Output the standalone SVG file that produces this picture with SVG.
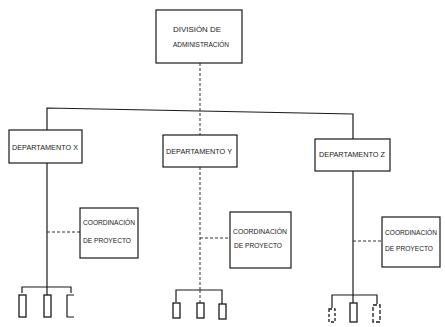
<svg xmlns="http://www.w3.org/2000/svg" width="445" height="327" viewBox="0 0 445 327">
<style>
.box{fill:#fff;stroke:#1a1a1a;stroke-width:1.2}
.sm{fill:#fff;stroke:#1a1a1a;stroke-width:1.3}
.ln{fill:none;stroke:#1a1a1a;stroke-width:1.2}
.dl{fill:none;stroke:#333;stroke-width:1;stroke-dasharray:3 2}
.t{font-family:"Liberation Sans",Arial,sans-serif;font-size:7px;fill:#1a1a1a;text-anchor:middle}
</style>
<rect width="445" height="327" fill="#fff"/>
<g id="connectors">
<line class="dl" x1="200" y1="63" x2="200" y2="135"/>
<polyline class="ln" points="47,130 47,108 200,111 353,114 353,139"/>
<line class="ln" x1="47" y1="163" x2="47" y2="287"/>
<line class="dl" x1="200" y1="167" x2="200" y2="290"/>
<line class="ln" x1="353" y1="171" x2="353" y2="295"/>
<line class="dl" x1="47" y1="232" x2="80" y2="232"/>
<line class="dl" x1="200" y1="238" x2="230" y2="238"/>
<line class="dl" x1="353" y1="241" x2="382" y2="241"/>
<polyline class="ln" points="22,293 22,287 71,287 71,293"/>
<line class="ln" x1="47" y1="287" x2="47" y2="295"/>
<polyline class="ln" points="176,302 176,290 222,290 222,304"/>
<line class="dl" x1="200" y1="290" x2="200" y2="303"/>
<polyline class="ln" points="332,308 332,295 377,295 377,304"/>
<line class="ln" x1="353" y1="295" x2="353" y2="303"/>
</g>
<g id="division">
<rect class="box" x="156" y="10" width="86" height="53"/>
<text class="t" x="197" y="32" textLength="48" lengthAdjust="spacingAndGlyphs">DIVISIÓN DE</text>
<text class="t" x="201" y="47" textLength="56" lengthAdjust="spacingAndGlyphs">ADMINISTRACIÓN</text>
</g>
<g id="dept1">
<rect class="box" x="9" y="130" width="73" height="33"/>
<text class="t" x="45" y="150" textLength="66" lengthAdjust="spacingAndGlyphs">DEPARTAMENTO X</text>
</g>
<g id="dept2">
<rect class="box" x="163" y="135" width="74" height="32"/>
<text class="t" x="199" y="154" textLength="66" lengthAdjust="spacingAndGlyphs">DEPARTAMENTO Y</text>
</g>
<g id="dept3">
<rect class="box" x="315" y="139" width="75" height="32"/>
<text class="t" x="352" y="157" textLength="66" lengthAdjust="spacingAndGlyphs">DEPARTAMENTO Z</text>
</g>
<g id="coord1">
<rect class="box" x="80" y="208" width="58" height="50"/>
<text class="t" x="109" y="225" textLength="52" lengthAdjust="spacingAndGlyphs">COORDINACIÓN</text>
<text class="t" x="107" y="243" textLength="48" lengthAdjust="spacingAndGlyphs">DE PROYECTO</text>
</g>
<g id="coord2">
<rect class="box" x="230" y="212" width="61" height="56"/>
<text class="t" x="260" y="234" textLength="54" lengthAdjust="spacingAndGlyphs">COORDINACIÓN</text>
<text class="t" x="258" y="248" textLength="48" lengthAdjust="spacingAndGlyphs">DE PROYECTO</text>
</g>
<g id="coord3">
<rect class="box" x="382" y="217" width="58" height="50"/>
<text class="t" x="411" y="235" textLength="52" lengthAdjust="spacingAndGlyphs">COORDINACIÓN</text>
<text class="t" x="409" y="251" textLength="48" lengthAdjust="spacingAndGlyphs">DE PROYECTO</text>
</g>
<g id="unit1a"><rect class="sm" x="19" y="295" width="7" height="22"/></g>
<g id="unit1b"><rect class="sm" x="44" y="295" width="7" height="22"/></g>
<g id="unit1c"><polyline class="ln" points="74,295 67,295 67,317 74,317"/></g>
<g id="unit2a"><rect class="sm" x="173" y="303" width="7" height="15"/></g>
<g id="unit2b"><rect class="sm" x="197" y="303" width="7" height="15"/></g>
<g id="unit2c"><rect class="sm" x="219" y="304" width="7" height="15"/></g>
<g id="unit3a"><rect class="sm" x="329" y="309" width="6" height="13" stroke-dasharray="3 2"/></g>
<g id="unit3b"><rect class="sm" x="350" y="303" width="7" height="19"/></g>
<g id="unit3c"><rect class="sm" x="373" y="305" width="7" height="17" stroke-dasharray="4 2"/></g>
</svg>
